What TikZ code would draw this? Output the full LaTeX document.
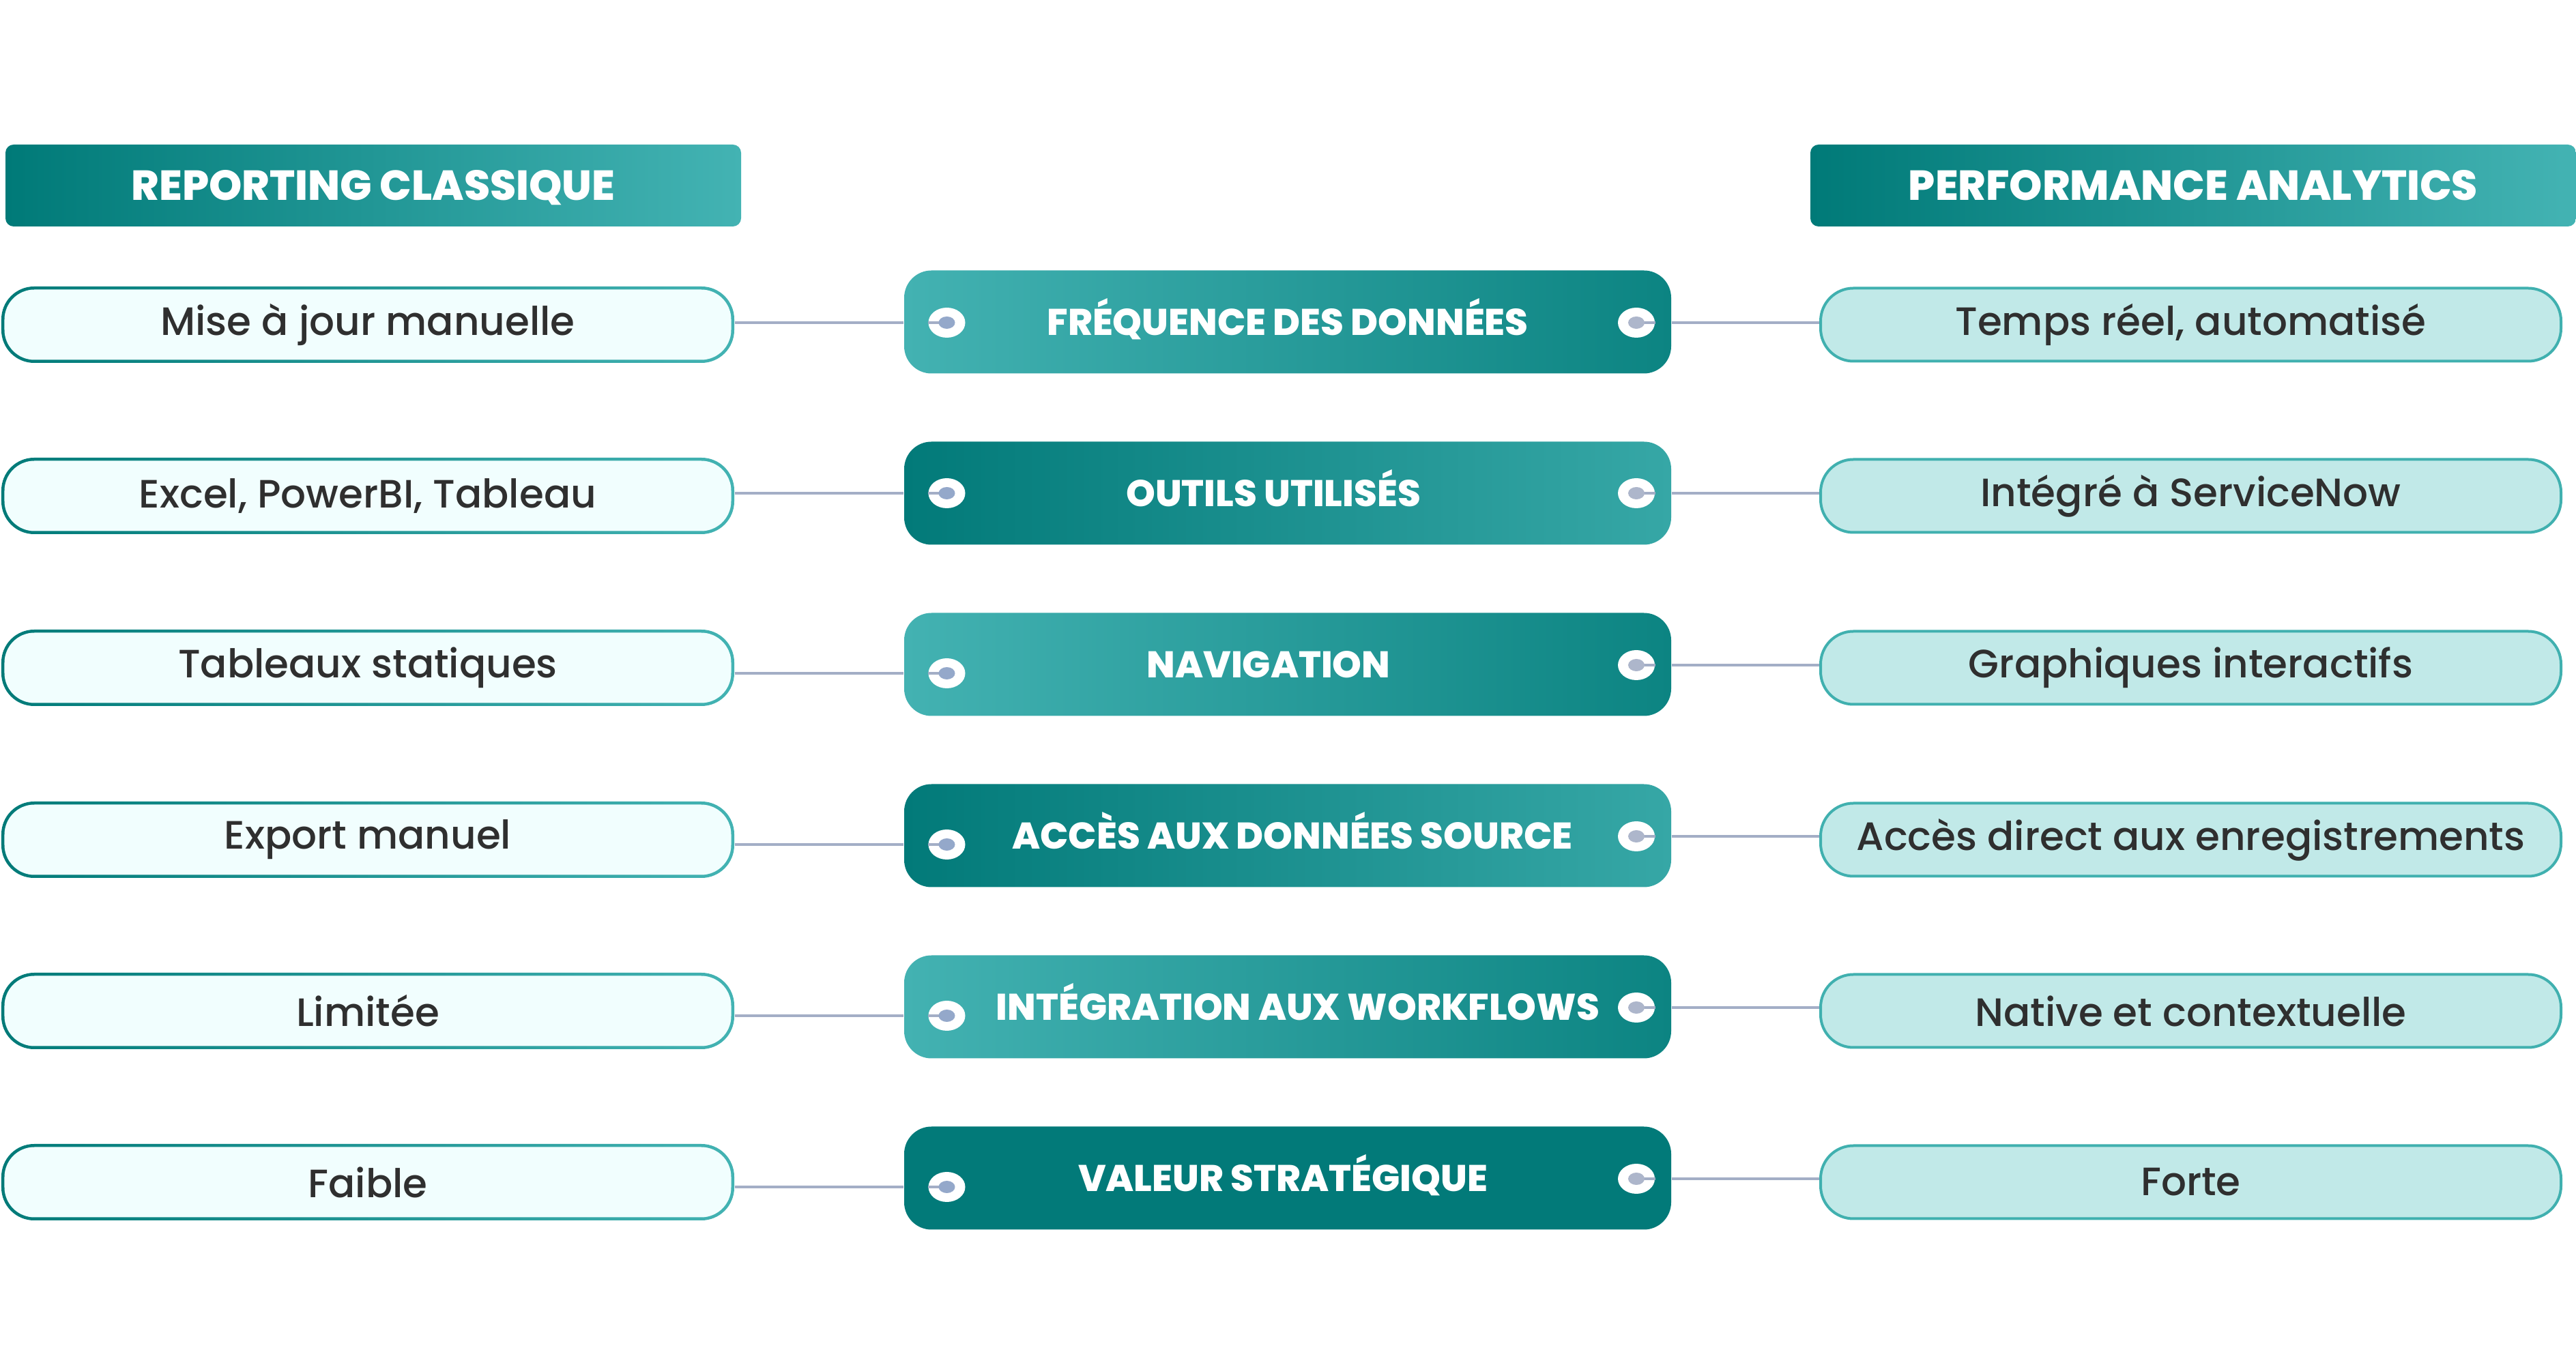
\documentclass[tikz,border=0pt]{standalone}
\usepackage{fontspec}
\setmainfont{Poppins}[UprightFont={* Medium},BoldFont={* ExtraBold}]
\usetikzlibrary{shapes.geometric}
\definecolor{headL}{HTML}{007A78}
\definecolor{headR}{HTML}{43B3B3}
\definecolor{paleL}{HTML}{F1FEFE}
\definecolor{paleR}{HTML}{C1E9E8}
\definecolor{rimR}{HTML}{40B0AF}
\definecolor{keyA}{HTML}{43B2B2}
\definecolor{keyB}{HTML}{0C8482}
\definecolor{keyC}{HTML}{027A79}
\definecolor{keyD}{HTML}{36A7A6}
\definecolor{ink}{HTML}{2F2F2F}
\definecolor{linec}{HTML}{A3AEC6}
\definecolor{dotL}{HTML}{94A8CA}
\definecolor{dotR}{HTML}{ADB6CB}

\begin{document}
\begin{tikzpicture}[head node/.style={rounded corners=0.12cm,minimum height=1.2cm,inner sep=0pt,text=white,font=\fontsize{17.5}{20}\selectfont\bfseries,left color=headL,right color=headR,text height=0.43cm,text depth=0cm},
  left node/.style={rounded corners=0.48cm,minimum width=10.74cm,minimum height=1.12cm,inner sep=0pt,text=ink,font=\fontsize{16.5}{19}\selectfont,left color=headL,right color=headR,
    path picture={\fill[paleL,rounded corners=0.44cm] ([shift={(0.045cm,0.045cm)}]path picture bounding box.south west) rectangle ([shift={(-0.045cm,-0.045cm)}]path picture bounding box.north east);}},
  right node/.style={rounded corners=0.48cm,minimum width=10.85cm,minimum height=1.07cm,inner sep=0pt,draw=rimR,line width=0.04cm,fill=paleR,text=ink,font=\fontsize{16.5}{19}\selectfont},
  key node/.style={rounded corners=0.4cm,minimum width=11.24cm,minimum height=1.51cm,inner sep=0pt,text=white,font=\fontsize{15.5}{18}\selectfont\bfseries,text height=0.39cm,text depth=0cm},
  light key/.style={key node,left color=keyA,right color=keyB},
  dark key/.style={key node,left color=keyC,right color=keyD},
  ring/.style={ellipse,fill=white,minimum width=0.54cm,minimum height=0.44cm,inner sep=0pt},
  link/.style={draw=linec,line width=0.04cm}]
  \useasboundingbox (0,0) rectangle (37.75,20);

  \node[head node,minimum width=10.78cm] (hl) at (5.47,17.28) {REPORTING CLASSIQUE};
  \node[head node,minimum width=11.22cm] (hr) at (32.14,17.28) {PERFORMANCE ANALYTICS};

  \node[left node] (l1) at (5.39,15.24) {Mise à jour manuelle};
  \node[left node] (l2) at (5.39,12.73) {Excel, PowerBI, Tableau};
  \node[left node] (l3) at (5.39,10.21) {Tableaux statiques};
  \node[left node] (l4) at (5.39,7.69) {Export manuel};
  \node[left node] (l5) at (5.39,5.18) {Limitée};
  \node[left node] (l6) at (5.39,2.67) {Faible};

  \node[light key] (c1) at (18.87,15.28) {FRÉQUENCE DES DONNÉES};
  \node[dark key] (c2) at (18.87,12.77) {\hspace*{-0.42cm}OUTILS UTILISÉS};
  \node[light key] (c3) at (18.87,10.26) {\hspace*{-0.56cm}NAVIGATION};
  \node[dark key] (c4) at (18.87,7.75) {\hspace*{0.14cm}ACCÈS AUX DONNÉES SOURCE};
  \node[light key] (c5) at (18.87,5.24) {\hspace*{0.3cm}INTÉGRATION AUX WORKFLOWS};
  \node[key node,fill=keyC] (c6) at (18.87,2.73) {\hspace*{-0.14cm}VALEUR STRATÉGIQUE};

  \node[right node] (r1) at (32.105,15.24) {Temps réel, automatisé};
  \node[right node] (r2) at (32.105,12.73) {Intégré à ServiceNow};
  \node[right node] (r3) at (32.105,10.21) {Graphiques interactifs};
  \node[right node] (r4) at (32.105,7.69) {Accès direct aux enregistrements};
  \node[right node] (r5) at (32.105,5.18) {Native et contextuelle};
  \node[right node] (r6) at (32.105,2.67) {Forte};

  \node[ring] (s1) at (13.875,15.27) {};
  \node[ring] (s2) at (13.875,12.77) {};
  \node[ring] (s3) at (13.875,10.13) {};
  \node[ring] (s4) at (13.875,7.62) {};
  \node[ring] (s5) at (13.875,5.11) {};
  \node[ring] (s6) at (13.875,2.60) {};
  \node[ring] (t1) at (23.98,15.27) {};
  \node[ring] (t2) at (23.98,12.77) {};
  \node[ring] (t3) at (23.98,10.25) {};
  \node[ring] (t4) at (23.98,7.74) {};
  \node[ring] (t5) at (23.98,5.23) {};
  \node[ring] (t6) at (23.98,2.72) {};

\path[link]
  (s1 -| l1.east) edge (s1 -| c1.west)
  (s2 -| l2.east) edge (s2 -| c2.west)
  (s3 -| l3.east) edge (s3 -| c3.west)
  (s4 -| l4.east) edge (s4 -| c4.west)
  (s5 -| l5.east) edge (s5 -| c5.west)
  (s6 -| l6.east) edge (s6 -| c6.west)
  (t1 -| c1.east) edge (t1 -| r1.west)
  (t2 -| c2.east) edge (t2 -| r2.west)
  (t3 -| c3.east) edge (t3 -| r3.west)
  (t4 -| c4.east) edge (t4 -| r4.west)
  (t5 -| c5.east) edge (t5 -| r5.west)
  (t6 -| c6.east) edge (t6 -| r6.west)
  (s1.west) edge (s1.center)
  (s2.west) edge (s2.center)
  (s3.west) edge (s3.center)
  (s4.west) edge (s4.center)
  (s5.west) edge (s5.center)
  (s6.west) edge (s6.center)
  (t1.center) edge (t1.east)
  (t2.center) edge (t2.east)
  (t3.center) edge (t3.east)
  (t4.center) edge (t4.east)
  (t5.center) edge (t5.east)
  (t6.center) edge (t6.east)
;
  \fill[dotL] (s1) ellipse [x radius=0.12,y radius=0.09] (s2) ellipse [x radius=0.12,y radius=0.09]
    (s3) ellipse [x radius=0.12,y radius=0.09] (s4) ellipse [x radius=0.12,y radius=0.09]
    (s5) ellipse [x radius=0.12,y radius=0.09] (s6) ellipse [x radius=0.12,y radius=0.09];
  \fill[dotR] (t1) ellipse [x radius=0.12,y radius=0.09] (t2) ellipse [x radius=0.12,y radius=0.09]
    (t3) ellipse [x radius=0.12,y radius=0.09] (t4) ellipse [x radius=0.12,y radius=0.09]
    (t5) ellipse [x radius=0.12,y radius=0.09] (t6) ellipse [x radius=0.12,y radius=0.09];
\end{tikzpicture}
\end{document}
